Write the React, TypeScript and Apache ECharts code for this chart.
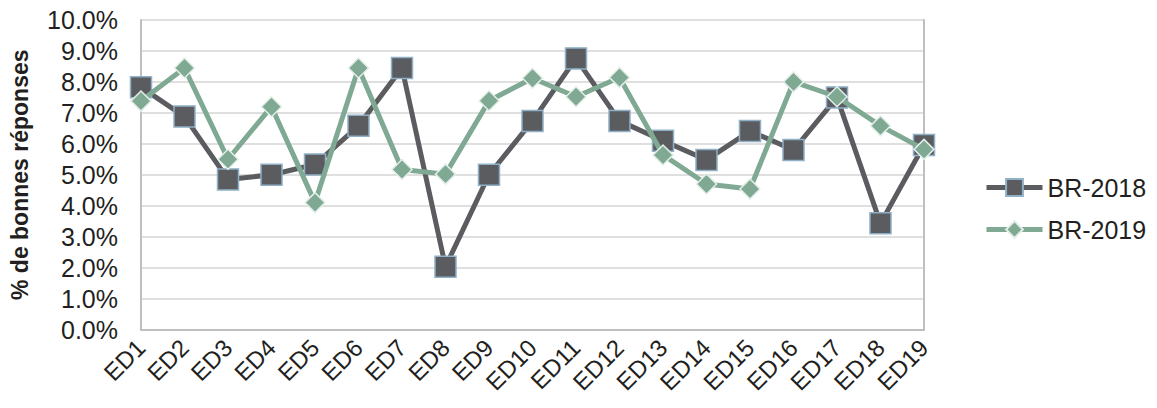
import { useEffect, useRef } from "react"
import * as echarts from "echarts"

const categories = [
  "ED1", "ED2", "ED3", "ED4", "ED5", "ED6", "ED7", "ED8", "ED9", "ED10",
  "ED11", "ED12", "ED13", "ED14", "ED15", "ED16", "ED17", "ED18", "ED19",
]

// % de bonnes réponses (fractions)
const br2018 = [
  0.0783, 0.0688, 0.0485, 0.05, 0.0533, 0.0658, 0.0845, 0.0203, 0.05, 0.0674,
  0.0876, 0.0674, 0.061, 0.0548, 0.0641, 0.058, 0.075, 0.0343, 0.0596,
]
const br2019 = [
  0.0738, 0.0845, 0.055, 0.072, 0.041, 0.0845, 0.0517, 0.0502, 0.0739, 0.0812,
  0.0752, 0.0814, 0.0564, 0.047, 0.0454, 0.08, 0.0752, 0.0658, 0.0582,
]

const seriesNames = ["BR-2018", "BR-2019"]

const textColor = "#231f20"
const font = "'Liberation Sans', Arial, sans-serif"

export default function App() {
  const chartRef = useRef<HTMLDivElement>(null)

  useEffect(() => {
    if (!chartRef.current) return
    document.body.style.margin = "0"
    const chart = echarts.init(chartRef.current, null, { renderer: "svg" })

    const pct = (v: number) => (v * 100).toFixed(1) + "%"

    chart.setOption({
      animation: false,
      textStyle: { fontFamily: font, color: textColor },
      grid: { left: 140, right: 233, top: 20, bottom: 78.5 },
      legend: {
        orient: "vertical",
        left: 979,
        top: 170,
        itemWidth: 56,
        itemHeight: 21,
        itemGap: 17,
        data: seriesNames,
        lineStyle: { width: 5 },
        textStyle: { fontSize: 25, color: textColor, fontFamily: font },
      },
      xAxis: {
        type: "category",
        data: categories,
        boundaryGap: false,
        axisLine: { lineStyle: { color: "#bfbfbf", width: 2 } },
        axisTick: { show: false },
        axisLabel: {
          rotate: 45,
          fontSize: 24,
          color: textColor,
          fontFamily: font,
          margin: 14,
          interval: 0,
        },
      },
      yAxis: [
        {
          type: "value",
          min: 0,
          max: 0.1,
          interval: 0.01,
          name: "% de bonnes réponses",
          nameLocation: "middle",
          nameRotate: 90,
          nameGap: 110,
          nameTextStyle: { fontSize: 23, fontWeight: "bold", color: textColor, fontFamily: font },
          axisLine: { show: true, lineStyle: { color: "#bfbfbf", width: 2 } },
          axisTick: { show: false },
          axisLabel: {
            formatter: pct,
            fontSize: 25,
            color: textColor,
            fontFamily: font,
            margin: 23,
          },
          splitLine: { lineStyle: { color: "#d4d4d4", width: 1.5 } },
        },
        {
          type: "value",
          min: 0,
          max: 0.1,
          interval: 0.01,
          position: "right",
          axisLine: { show: true, lineStyle: { color: "#bfbfbf", width: 2 } },
          axisTick: { show: false },
          axisLabel: { show: false },
          splitLine: { show: false },
        },
      ],
      series: [
        {
          name: seriesNames[0],
          type: "line",
          data: br2018,
          symbol: "rect",
          symbolSize: 21,
          lineStyle: { color: "#5a5c60", width: 5 },
          itemStyle: { color: "#5a5c60", borderColor: "#8fb0c6", borderWidth: 1.5 },
          z: 2,
        },
        {
          name: seriesNames[1],
          type: "line",
          data: br2019,
          symbol: "diamond",
          symbolSize: 20,
          lineStyle: { color: "#7fa993", width: 5 },
          itemStyle: { color: "#7fa993", borderColor: "#e3eee8", borderWidth: 1.5 },
          z: 3,
        },
      ],
    })

    return () => {
      chart.dispose()
    }
  }, [])

  return <div ref={chartRef} style={{ width: 1157, height: 408 }} />
}
